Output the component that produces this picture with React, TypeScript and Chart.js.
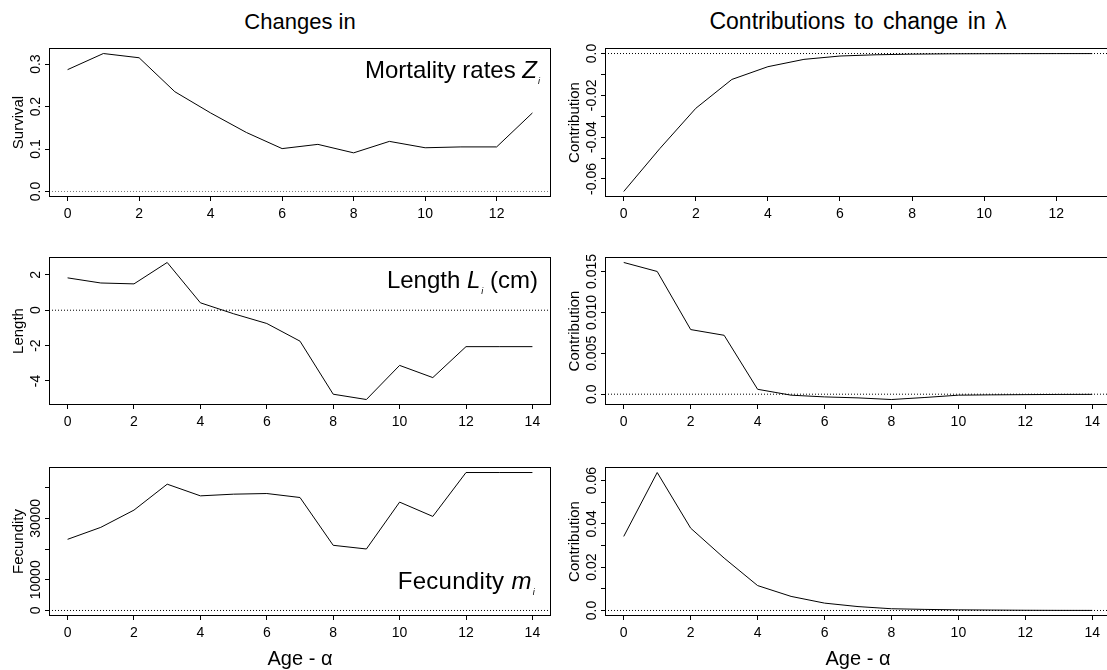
import React, { useEffect, useRef } from "react";
import { Chart, registerables } from "chart.js";

Chart.register(...registerables);

const FONT = "'Liberation Sans', Arial, Helvetica, sans-serif";
Chart.defaults.font.family = FONT;
Chart.defaults.color = "#000";

// ---------- data ----------
const agesTo13 = [0, 1, 2, 3, 4, 5, 6, 7, 8, 9, 10, 11, 12, 13];
const agesTo14 = [0, 1, 2, 3, 4, 5, 6, 7, 8, 9, 10, 11, 12, 13, 14];

const survivalChange = [0.287, 0.325, 0.315, 0.235, 0.185, 0.139, 0.101, 0.111, 0.091, 0.118, 0.103, 0.105, 0.105, 0.185];
const survivalContribution = [-0.066, -0.0455, -0.0262, -0.0124, -0.0063, -0.0028, -0.0012, -0.0006, -0.0003, -0.00015, -0.0001, -0.00006, -0.00004, -0.00003];

const lengthChange = [1.83, 1.54, 1.49, 2.7, 0.42, -0.2, -0.75, -1.75, -4.75, -5.05, -3.12, -3.81, -2.06, -2.06, -2.06];
const lengthContribution = [0.0161, 0.015, 0.0079, 0.0072, 0.0006, -0.00012, -0.00033, -0.00045, -0.00065, -0.0004, -0.00012, -0.00008, -0.00005, -0.00003, -0.00002];

const fecundityChange = [23180, 27080, 32700, 41140, 37340, 37890, 38100, 36800, 21230, 20030, 35300, 30640, 44940, 44940, 44940];
const fecundityContribution = [0.0342, 0.0637, 0.038, 0.0242, 0.0115, 0.0065, 0.0034, 0.0018, 0.0008, 0.0005, 0.0003, 0.0002, 0.0001, 0.00005, 0.00003];

const xTicksTo13 = [0, 2, 4, 6, 8, 10, 12];
const xTicksTo14 = [0, 2, 4, 6, 8, 10, 12, 14];

const survivalTicks = [0, 0.1, 0.2, 0.3];
const survivalTickLabels = ["0.0", "0.1", "0.2", "0.3"];
const survivalContribTicks = [-0.06, -0.05, -0.04, -0.03, -0.02, -0.01, 0];
const survivalContribTickLabels = ["-0.06", "", "-0.04", "", "-0.02", "", "0.0"];

const lengthTicks = [-4, -2, 0, 2];
const lengthTickLabels = ["-4", "-2", "0", "2"];
const lengthContribTicks = [0, 0.005, 0.01, 0.015];
const lengthContribTickLabels = ["0.0", "0.005", "0.010", "0.015"];

const fecundityTicks = [0, 10000, 20000, 30000, 40000];
const fecundityTickLabels = ["0", "10000", "", "30000", ""];
const fecundityContribTicks = [0, 0.01, 0.02, 0.03, 0.04, 0.05, 0.06];
const fecundityContribTickLabels = ["0.0", "", "0.02", "", "0.04", "", "0.06"];

// ---------- layout ----------
const COLS = [
  { canvasLeft: 0, plotLeft: 49, plotRight: 551 },
  { canvasLeft: 556, plotLeft: 605, plotRight: 1111 },
];
const ROWS = [
  { plotTop: 48, plotBottom: 197 },
  { plotTop: 257, plotBottom: 405 },
  { plotTop: 467, plotBottom: 616 },
];
const PAD_TOP = 4;
const PAD_RIGHT = 2;
const X_AXIS_H = 32;

const boxPlugin = {
  id: "plotBox",
  afterDatasetsDraw(chart: any) {
    const { ctx, chartArea } = chart;
    const { left, top, right, bottom } = chartArea;
    ctx.save();
    ctx.strokeStyle = "#000";
    ctx.lineWidth = 1;
    ctx.strokeRect(Math.round(left) + 0.5, Math.round(top) + 0.5, Math.round(right - left) - 1, Math.round(bottom - top) - 1);
    ctx.restore();
  },
};

const yTickLabelPlugin = {
  id: "yTickLabels",
  afterDraw(chart: any, _args: any, opts: any) {
    const { ctx, chartArea, scales } = chart;
    const ys = scales.y;
    ctx.save();
    ctx.font = `14px ${FONT}`;
    ctx.fillStyle = "#000";
    ctx.textAlign = "center";
    ctx.textBaseline = "alphabetic";
    (opts.values as number[]).forEach((v, i) => {
      const label = opts.labels[i];
      if (!label) return;
      const py = ys.getPixelForValue(v);
      ctx.save();
      ctx.translate(chartArea.left - 9, py);
      ctx.rotate(-Math.PI / 2);
      ctx.fillText(label, 0, 0);
      ctx.restore();
    });
    ctx.restore();
  },
};

type PanelProps = {
  col: number;
  row: number;
  ages: number[];
  values: number[];
  xTicks: number[];
  yTicks: number[];
  yTickLabels: string[];
  yTitle: string;
  zeroColor: string;
};

function Panel(p: PanelProps) {
  const ref = useRef<HTMLCanvasElement>(null);
  const c = COLS[p.col];
  const r = ROWS[p.row];
  const canvasTop = r.plotTop - PAD_TOP;
  const width = c.plotRight - c.canvasLeft + PAD_RIGHT;
  const height = r.plotBottom - canvasTop + X_AXIS_H;
  const yAxisW = c.plotLeft - c.canvasLeft;

  useEffect(() => {
    const canvas = ref.current;
    if (!canvas) return;
    const n = p.ages[p.ages.length - 1] - p.ages[0];
    const xMin = p.ages[0] - 0.04 * n;
    const xMax = p.ages[p.ages.length - 1] + 0.04 * n;
    const lo = Math.min(0, ...p.values);
    const hi = Math.max(0, ...p.values);
    const span = hi - lo;
    const yMin = lo - 0.04 * span;
    const yMax = hi + 0.04 * span;

    const gridOpts = {
      display: true,
      drawOnChartArea: false,
      drawTicks: true,
      tickLength: 4,
      color: "#000",
      lineWidth: 1,
    };

    const chart = new Chart(canvas, {
      type: "line",
      data: {
        datasets: [
          {
            data: p.ages.map((a, i) => ({ x: a, y: p.values[i] })),
            borderColor: "#000",
            borderWidth: 1,
            pointRadius: 0,
            tension: 0,
            fill: false,
          },
          {
            data: [
              { x: xMin, y: 0 },
              { x: xMax, y: 0 },
            ],
            borderColor: p.zeroColor,
            borderWidth: 1,
            borderDash: [1, 2],
            pointRadius: 0,
            fill: false,
          },
        ],
      },
      options: {
        animation: false,
        responsive: false,
        maintainAspectRatio: false,
        layout: { padding: { top: PAD_TOP, right: PAD_RIGHT, left: 0, bottom: 0 } },
        plugins: {
          legend: { display: false },
          tooltip: { enabled: false },
          title: { display: false },
          yTickLabels: { values: p.yTicks, labels: p.yTickLabels },
        } as any,
        scales: {
          x: {
            type: "linear",
            min: xMin,
            max: xMax,
            bounds: "data",
            afterBuildTicks: (s: any) => {
              s.ticks = p.xTicks.map((v) => ({ value: v }));
            },
            afterFit: (s: any) => {
              s.height = X_AXIS_H;
            },
            grid: gridOpts,
            border: { display: false },
            ticks: {
              color: "#000",
              font: { family: FONT, size: 14 },
              padding: 5,
              maxRotation: 0,
              autoSkip: false,
            },
          },
          y: {
            type: "linear",
            min: yMin,
            max: yMax,
            bounds: "data",
            afterBuildTicks: (s: any) => {
              s.ticks = p.yTicks.map((v) => ({ value: v }));
            },
            afterFit: (s: any) => {
              s.width = yAxisW;
            },
            grid: gridOpts,
            border: { display: false },
            ticks: { display: false },
            title: {
              display: true,
              text: p.yTitle,
              color: "#000",
              font: { family: FONT, size: 15 },
              padding: { top: 10, bottom: 0 },
            },
          },
        },
      } as any,
      plugins: [boxPlugin, yTickLabelPlugin],
    });
    return () => chart.destroy();
  }, []);

  return (
    <canvas
      ref={ref}
      width={width}
      height={height}
      style={{ position: "absolute", left: c.canvasLeft, top: canvasTop, width, height }}
    />
  );
}

const textBase: React.CSSProperties = {
  position: "absolute",
  fontFamily: FONT,
  color: "#000",
  whiteSpace: "nowrap",
};

function Sub({ children }: { children: React.ReactNode }) {
  return (
    <span style={{ fontSize: 9, position: "relative", top: 6, marginLeft: 1, fontStyle: "italic" }}>{children}</span>
  );
}

export default function App() {
  return (
    <div
      style={{
        position: "absolute",
        left: 0,
        top: 0,
        width: 1107,
        height: 670,
        overflow: "hidden",
        background: "#fff",
      }}
    >
      <div style={{ ...textBase, left: 100, width: 400, textAlign: "center", fontSize: 22, lineHeight: "22px", top: 11 }}>
        Changes in
      </div>
      <div style={{ ...textBase, left: 658, width: 400, textAlign: "center", fontSize: 23, lineHeight: "23px", top: 10, wordSpacing: 3 }}>
        Contributions to change in λ
      </div>

      <Panel col={0} row={0} ages={agesTo13} values={survivalChange} xTicks={xTicksTo13} yTicks={survivalTicks} yTickLabels={survivalTickLabels} yTitle="Survival" zeroColor="#777" />
      <Panel col={1} row={0} ages={agesTo13} values={survivalContribution} xTicks={xTicksTo13} yTicks={survivalContribTicks} yTickLabels={survivalContribTickLabels} yTitle="Contribution" zeroColor="#000" />
      <Panel col={0} row={1} ages={agesTo14} values={lengthChange} xTicks={xTicksTo14} yTicks={lengthTicks} yTickLabels={lengthTickLabels} yTitle="Length" zeroColor="#000" />
      <Panel col={1} row={1} ages={agesTo14} values={lengthContribution} xTicks={xTicksTo14} yTicks={lengthContribTicks} yTickLabels={lengthContribTickLabels} yTitle="Contribution" zeroColor="#000" />
      <Panel col={0} row={2} ages={agesTo14} values={fecundityChange} xTicks={xTicksTo14} yTicks={fecundityTicks} yTickLabels={fecundityTickLabels} yTitle="Fecundity" zeroColor="#000" />
      <Panel col={1} row={2} ages={agesTo14} values={fecundityContribution} xTicks={xTicksTo14} yTicks={fecundityContribTicks} yTickLabels={fecundityContribTickLabels} yTitle="Contribution" zeroColor="#000" />

      <div style={{ ...textBase, right: 567, fontSize: 24, lineHeight: "24px", top: 58 }}>
        Mortality rates <i>Z</i>
        <Sub>i</Sub>
      </div>
      <div style={{ ...textBase, right: 569, fontSize: 24, lineHeight: "24px", top: 268 }}>
        Length <i>L</i>
        <Sub>i</Sub> (cm)
      </div>
      <div style={{ ...textBase, right: 572, fontSize: 24, lineHeight: "24px", top: 569, letterSpacing: 0.3 }}>
        Fecundity <i>m</i>
        <Sub>i</Sub>
      </div>

      <div style={{ ...textBase, left: 100, width: 400, textAlign: "center", fontSize: 20, lineHeight: "20px", top: 648 }}>
        Age - α
      </div>
      <div style={{ ...textBase, left: 658, width: 400, textAlign: "center", fontSize: 20, lineHeight: "20px", top: 648 }}>
        Age - α
      </div>
    </div>
  );
}
